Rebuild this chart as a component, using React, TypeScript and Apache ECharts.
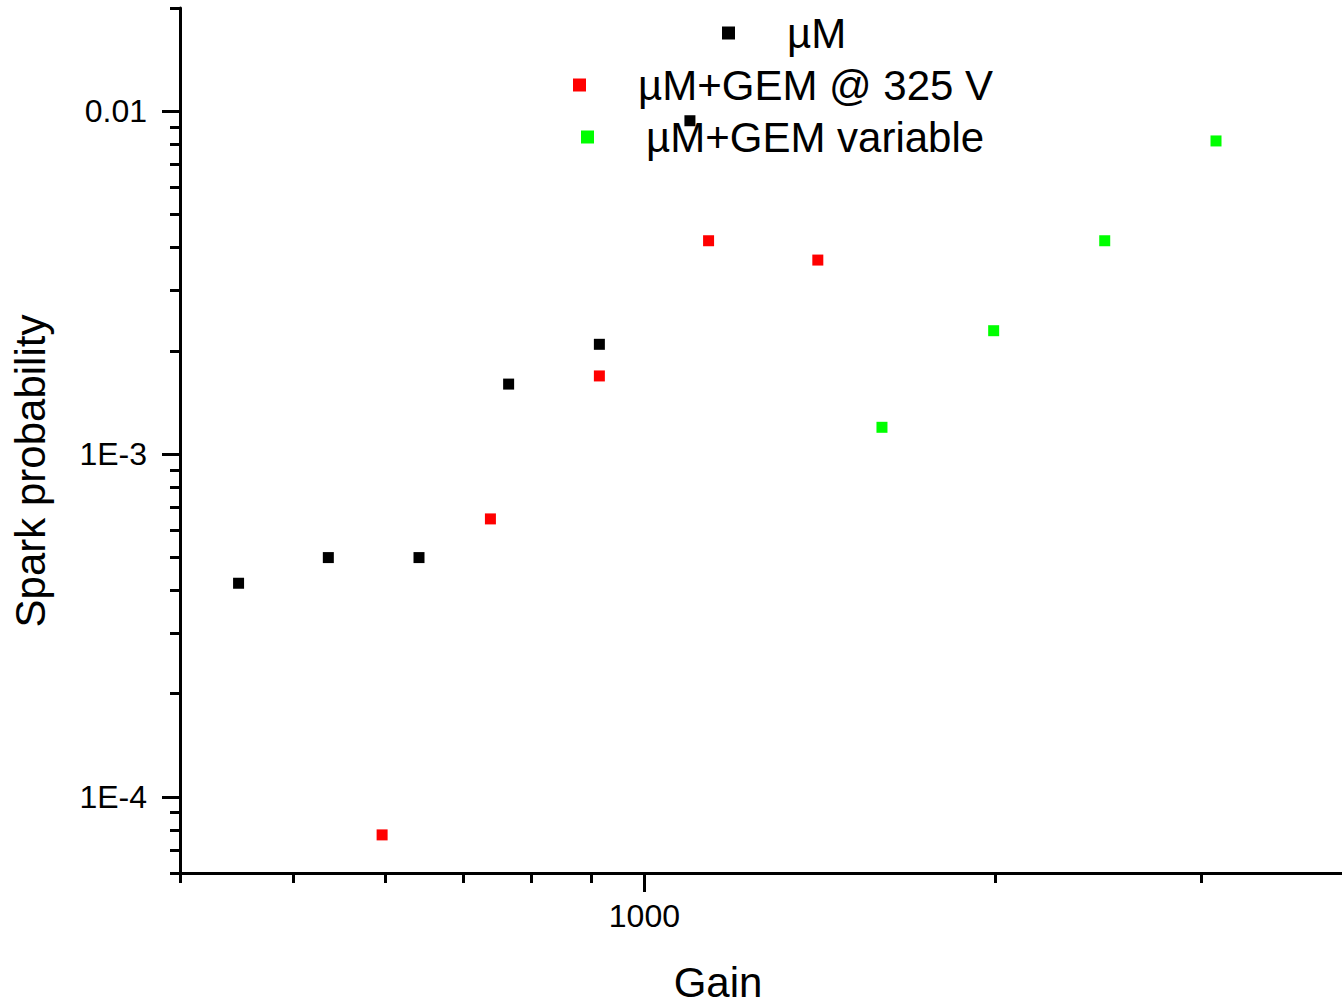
import React, { useEffect, useRef } from "react";
import * as echarts from "echarts";

const FONT = "'Liberation Sans', Arial, Helvetica, sans-serif";

// Series names & colours
const seriesNames = ["µM", "µM+GEM @ 325 V", "µM+GEM variable"];
const seriesColors = ["#000000", "#ff0000", "#00ff00"];

// Data (Gain, Spark probability)
const muMGain = [449, 536, 641, 765, 915, 1094];
const muMProb = [4.2e-4, 4.99e-4, 4.99e-4, 1.6e-3, 2.09e-3, 9.38e-3];

const gem325Gain = [596, 738, 915, 1135, 1408];
const gem325Prob = [7.75e-5, 6.47e-4, 1.69e-3, 4.19e-3, 3.68e-3];

const gemVarGain = [1598, 1992, 2480, 3089];
const gemVarProb = [1.197e-3, 2.29e-3, 4.19e-3, 8.19e-3];

// Axis ranges & ticks
const xMin = 400;
const xMax = 4000;
const yMin = 6e-5;
const yMax = 2e-2;
const xMajorTicks = [1000];
const xMinorTicks = [400, 500, 600, 700, 800, 900, 2000, 3000, 4000];
const yMajorTicks = [1e-4, 1e-3, 1e-2];
const yMinorTicks = [
  6e-5, 7e-5, 8e-5, 9e-5,
  2e-4, 3e-4, 4e-4, 5e-4, 6e-4, 7e-4, 8e-4, 9e-4,
  2e-3, 3e-3, 4e-3, 5e-3, 6e-3, 7e-3, 8e-3, 9e-3,
  2e-2,
];
const yTickLabelByExp: Record<string, string> = { "-4": "1E-4", "-3": "1E-3", "-2": "0.01" };

const xTitle = "Gain";
const yTitle = "Spark probability";

const legendLefts = [722, 573, 581];
const legendTops = [12, 64, 116];

function zip(a: number[], b: number[]) {
  return a.map((v, i) => [v, b[i]]);
}

export default function App() {
  const ref = useRef<HTMLDivElement>(null);

  useEffect(() => {
    if (!ref.current) return;
    const chart = echarts.init(ref.current, null, { renderer: "svg" });

    const lineStyle = { color: "#000", width: 3 };
    const baseX = { type: "log", logBase: 10, min: xMin, max: xMax, gridIndex: 0, position: "bottom", splitLine: { show: false } };
    const baseY = { type: "log", logBase: 10, min: yMin, max: yMax, gridIndex: 0, position: "left", splitLine: { show: false } };

    const datasets = [zip(muMGain, muMProb), zip(gem325Gain, gem325Prob), zip(gemVarGain, gemVarProb)];

    const option: any = {
      animation: false,
      backgroundColor: "#ffffff",
      textStyle: { fontFamily: FONT },
      grid: {
        left: 180,
        top: 8,
        right: -5,
        bottom: 131,
        containLabel: false,
        outerBoundsMode: "none",
      },
      legend: seriesNames.map((n, i) => ({
        data: [n],
        left: legendLefts[i],
        top: legendTops[i],
        padding: 0,
        icon: "rect",
        itemWidth: 13,
        itemHeight: 13,
        selectedMode: false,
        itemStyle: { opacity: 1 },
        textStyle: { fontSize: 42, color: "#000", fontFamily: FONT, padding: [6, 0, 0, 47] },
      })),
      xAxis: [
        {
          ...baseX,
          axisLine: { show: true, lineStyle },
          axisTick: { show: true, customValues: xMajorTicks, length: 19, lineStyle },
          axisLabel: {
            show: true,
            customValues: xMajorTicks,
            margin: 27,
            fontSize: 32,
            color: "#000",
            fontFamily: FONT,
            formatter: (v: number) => String(Math.round(v)),
          },
        },
        {
          ...baseX,
          axisLine: { show: false },
          axisTick: { show: true, customValues: xMinorTicks, length: 10, lineStyle },
          axisLabel: { show: false },
        },
      ],
      yAxis: [
        {
          ...baseY,
          axisLine: { show: true, lineStyle },
          axisTick: { show: true, customValues: yMajorTicks, length: 18, lineStyle },
          axisLabel: {
            show: true,
            customValues: yMajorTicks,
            margin: 33,
            fontSize: 32,
            color: "#000",
            fontFamily: FONT,
            formatter: (v: number) => yTickLabelByExp[String(Math.round(Math.log10(v)))] ?? String(v),
          },
        },
        {
          ...baseY,
          axisLine: { show: false },
          axisTick: { show: true, customValues: yMinorTicks, length: 10, lineStyle },
          axisLabel: { show: false },
        },
      ],
      graphic: [
        {
          type: "text",
          x: 718,
          y: 982,
          style: { text: xTitle, fontSize: 42, fontFamily: FONT, fill: "#000", align: "center", verticalAlign: "middle" },
        },
        {
          type: "text",
          x: 30,
          y: 471,
          rotation: Math.PI / 2,
          style: { text: yTitle, fontSize: 42, fontFamily: FONT, fill: "#000", align: "center", verticalAlign: "middle" },
        },
      ],
      series: seriesNames.map((n, i) => ({
        name: n,
        type: "scatter",
        xAxisIndex: 0,
        yAxisIndex: 0,
        symbol: "rect",
        symbolSize: 11,
        itemStyle: { color: seriesColors[i], opacity: 1 },
        data: datasets[i],
      })),
    };

    chart.setOption(option);
    return () => chart.dispose();
  }, []);

  return <div ref={ref} style={{ width: 1342, height: 1004, position: "absolute", left: 0, top: 0 }} />;
}
